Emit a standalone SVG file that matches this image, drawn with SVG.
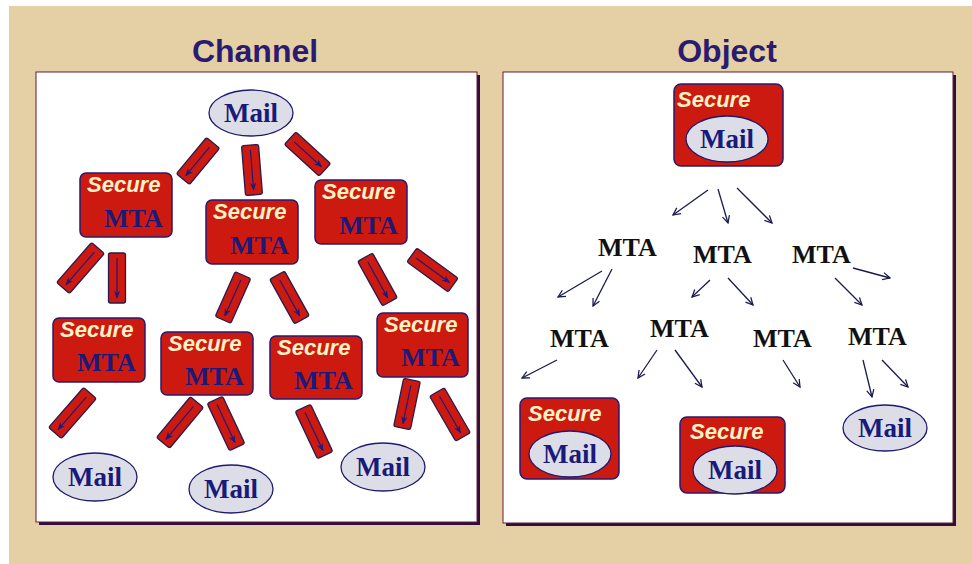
<svg xmlns="http://www.w3.org/2000/svg" width="972" height="564" viewBox="0 0 972 564">
  <style>
    .title { font-family: "Liberation Sans", Arial, sans-serif; font-weight: bold; font-size: 32px; fill: #2a1a70; text-anchor: middle; }
    .box { fill: #cc1a10; stroke: #2a1a6e; stroke-width: 1.5; }
    .secure { font-family: "Liberation Sans", Arial, sans-serif; font-weight: bold; font-style: italic; font-size: 22px; fill: #fff2c4; }
    .mta-in { font-family: "Liberation Serif", "Times New Roman", serif; font-weight: bold; font-size: 26px; fill: #1a1a7a; }
    .mta { font-family: "Liberation Serif", "Times New Roman", serif; font-weight: bold; font-size: 26px; fill: #111; }
    .oval { fill: #dddde8; stroke: #1e1a6e; stroke-width: 1.3; }
    .mail { font-family: "Liberation Serif", "Times New Roman", serif; font-weight: bold; font-size: 27px; fill: #1a1a7a; text-anchor: middle; }
    .bar { fill: #cc1a10; stroke: #2a1a4e; stroke-width: 1.3; }
    .bar-arrow { stroke: #1e1a7a; stroke-width: 1.2; fill: none; marker-end: url(#solid-head); }
    .link { stroke: #1a1a50; stroke-width: 1.3; fill: none; marker-end: url(#open-head); }
  </style>
  <defs>
    <marker id="open-head" viewBox="0 0 10 10" refX="9" refY="5" markerWidth="9" markerHeight="9" markerUnits="userSpaceOnUse" orient="auto">
      <path d="M1,1 L9,5 L1,9" fill="none" stroke="#1a1a50" stroke-width="1.4"/>
    </marker>
    <marker id="solid-head" viewBox="0 0 10 10" refX="9" refY="5" markerWidth="8" markerHeight="8" markerUnits="userSpaceOnUse" orient="auto">
      <path d="M0,1 L10,5 L0,9 L3,5 Z" fill="#1e1a7a"/>
    </marker>
  </defs>

  <!-- page background -->
  <rect x="0" y="0" width="972" height="564" fill="#ffffff"/>
  <rect x="9" y="6" width="963" height="558" fill="#e4d0a4"/>

  <!-- titles -->
  <text class="title" x="255" y="62">Channel</text>
  <text class="title" x="727" y="62">Object</text>

  <!-- panels -->
  <rect x="39" y="75" width="441" height="450" fill="#2e0e40"/>
  <rect x="36" y="72" width="441" height="450" fill="#ffffff" stroke="#6b1a2a" stroke-width="1"/>
  <rect x="506" y="75" width="450" height="451" fill="#2e0e40"/>
  <rect x="503" y="72" width="450" height="451" fill="#ffffff" stroke="#6b1a2a" stroke-width="1"/>

  <!-- Channel: secured links drawn as red bars -->
  <g id="channel-links">
    <g transform="translate(198,161) rotate(39.8)"><rect class="bar" x="-8.5" y="-23.5" width="17" height="47" rx="2"/><line class="bar-arrow" x1="0" y1="-18" x2="0" y2="19"/></g>
    <g transform="translate(252,170) rotate(-4.6)"><rect class="bar" x="-8.5" y="-25" width="17" height="50" rx="2"/><line class="bar-arrow" x1="0" y1="-20" x2="0" y2="20"/></g>
    <g transform="translate(307.5,154) rotate(-47.6)"><rect class="bar" x="-8.5" y="-23.5" width="17" height="47" rx="2"/><line class="bar-arrow" x1="0" y1="-18" x2="0" y2="19"/></g>
    <g transform="translate(80.5,268) rotate(41.2)"><rect class="bar" x="-8.5" y="-26.5" width="17" height="53" rx="2"/><line class="bar-arrow" x1="0" y1="-21" x2="0" y2="22"/></g>
    <g transform="translate(117,278)"><rect class="bar" x="-8.5" y="-25" width="17" height="50" rx="2"/><line class="bar-arrow" x1="0" y1="-20" x2="0" y2="20"/></g>
    <g transform="translate(233,297.5) rotate(24)"><rect class="bar" x="-8.5" y="-24.5" width="17" height="49" rx="2"/><line class="bar-arrow" x1="0" y1="-19" x2="0" y2="20"/></g>
    <g transform="translate(289.5,297.5) rotate(-29)"><rect class="bar" x="-8.5" y="-25.5" width="17" height="51" rx="2"/><line class="bar-arrow" x1="0" y1="-20" x2="0" y2="21"/></g>
    <g transform="translate(377.5,279.5) rotate(-29)"><rect class="bar" x="-8.5" y="-25.5" width="17" height="51" rx="2"/><line class="bar-arrow" x1="0" y1="-20" x2="0" y2="21"/></g>
    <g transform="translate(432.5,270) rotate(-53.8)"><rect class="bar" x="-8.5" y="-25.5" width="17" height="51" rx="2"/><line class="bar-arrow" x1="0" y1="-20" x2="0" y2="21"/></g>
    <g transform="translate(72.5,413) rotate(41.2)"><rect class="bar" x="-8.5" y="-26.5" width="17" height="53" rx="2"/><line class="bar-arrow" x1="0" y1="-21" x2="0" y2="22"/></g>
    <g transform="translate(180,422.5) rotate(39.7)"><rect class="bar" x="-8.5" y="-26.5" width="17" height="53" rx="2"/><line class="bar-arrow" x1="0" y1="-21" x2="0" y2="22"/></g>
    <g transform="translate(226,423.5) rotate(-25.1)"><rect class="bar" x="-8.5" y="-26" width="17" height="52" rx="2"/><line class="bar-arrow" x1="0" y1="-21" x2="0" y2="21"/></g>
    <g transform="translate(314,431.5) rotate(-25.1)"><rect class="bar" x="-8.5" y="-26" width="17" height="52" rx="2"/><line class="bar-arrow" x1="0" y1="-21" x2="0" y2="21"/></g>
    <g transform="translate(407,404) rotate(11.8)"><rect class="bar" x="-8.5" y="-24.5" width="17" height="49" rx="2"/><line class="bar-arrow" x1="0" y1="-19" x2="0" y2="20"/></g>
    <g transform="translate(450,414.5) rotate(-30)"><rect class="bar" x="-8.5" y="-26" width="17" height="52" rx="2"/><line class="bar-arrow" x1="0" y1="-21" x2="0" y2="21"/></g>
  </g>

  <!-- Channel: nodes -->
  <g id="ch-mail-src"><ellipse class="oval" cx="251" cy="113" rx="42" ry="23"/><text class="mail" x="251" y="122">Mail</text></g>
  <g id="ch-mta-1"><rect class="box" x="80" y="173" width="92" height="64" rx="6"/><text class="secure" x="87" y="192">Secure</text><text class="mta-in" x="104" y="227">MTA</text></g>
  <g id="ch-mta-2"><rect class="box" x="206" y="200" width="92" height="64" rx="6"/><text class="secure" x="213" y="219">Secure</text><text class="mta-in" x="230" y="254">MTA</text></g>
  <g id="ch-mta-3"><rect class="box" x="315" y="180" width="92" height="64" rx="6"/><text class="secure" x="322" y="199">Secure</text><text class="mta-in" x="339" y="234">MTA</text></g>
  <g id="ch-mta-4"><rect class="box" x="53" y="318" width="92" height="64" rx="6"/><text class="secure" x="60" y="337">Secure</text><text class="mta-in" x="77" y="371">MTA</text></g>
  <g id="ch-mta-5"><rect class="box" x="161" y="332" width="92" height="63" rx="6"/><text class="secure" x="168" y="351">Secure</text><text class="mta-in" x="185" y="385">MTA</text></g>
  <g id="ch-mta-6"><rect class="box" x="270" y="336" width="92" height="63" rx="6"/><text class="secure" x="277" y="355">Secure</text><text class="mta-in" x="294" y="389">MTA</text></g>
  <g id="ch-mta-7"><rect class="box" x="377" y="313" width="91" height="64" rx="6"/><text class="secure" x="384" y="332">Secure</text><text class="mta-in" x="401" y="366">MTA</text></g>
  <g id="ch-mail-1"><ellipse class="oval" cx="95" cy="477" rx="42" ry="24"/><text class="mail" x="95" y="486">Mail</text></g>
  <g id="ch-mail-2"><ellipse class="oval" cx="231" cy="489" rx="42" ry="24"/><text class="mail" x="231" y="498">Mail</text></g>
  <g id="ch-mail-3"><ellipse class="oval" cx="383" cy="467" rx="42" ry="24"/><text class="mail" x="383" y="476">Mail</text></g>

  <!-- Object: plain links -->
  <g id="object-links">
    <line class="link" x1="708" y1="190" x2="673" y2="215"/>
    <line class="link" x1="718" y1="189" x2="728" y2="223"/>
    <line class="link" x1="737" y1="188" x2="772" y2="223"/>
    <line class="link" x1="602" y1="271" x2="558" y2="297"/>
    <line class="link" x1="612" y1="269" x2="593" y2="306"/>
    <line class="link" x1="710" y1="280" x2="692" y2="297"/>
    <line class="link" x1="728" y1="278" x2="753" y2="305"/>
    <line class="link" x1="853" y1="268" x2="890" y2="278"/>
    <line class="link" x1="835" y1="278" x2="862" y2="305"/>
    <line class="link" x1="557" y1="360" x2="522" y2="378"/>
    <line class="link" x1="657" y1="350" x2="638" y2="378"/>
    <line class="link" x1="675" y1="350" x2="702" y2="387"/>
    <line class="link" x1="783" y1="360" x2="800" y2="387"/>
    <line class="link" x1="863" y1="360" x2="872" y2="397"/>
    <line class="link" x1="882" y1="360" x2="908" y2="387"/>
  </g>

  <!-- Object: nodes -->
  <g id="ob-secure-src"><rect class="box" x="674" y="84" width="109" height="82" rx="7"/><text class="secure" x="677" y="107">Secure</text><ellipse class="oval" cx="727" cy="139" rx="41" ry="23"/><text class="mail" x="727" y="148">Mail</text></g>
  <g id="ob-mta-1"><text class="mta" x="598" y="256">MTA</text></g>
  <g id="ob-mta-2"><text class="mta" x="693" y="263">MTA</text></g>
  <g id="ob-mta-3"><text class="mta" x="792" y="263">MTA</text></g>
  <g id="ob-mta-4"><text class="mta" x="550" y="347">MTA</text></g>
  <g id="ob-mta-5"><text class="mta" x="650" y="337">MTA</text></g>
  <g id="ob-mta-6"><text class="mta" x="753" y="347">MTA</text></g>
  <g id="ob-mta-7"><text class="mta" x="848" y="345">MTA</text></g>
  <g id="ob-secure-1"><rect class="box" x="520" y="398" width="99" height="81" rx="7"/><text class="secure" x="528" y="421">Secure</text><ellipse class="oval" cx="570" cy="454" rx="41" ry="23"/><text class="mail" x="570" y="463">Mail</text></g>
  <g id="ob-secure-2"><rect class="box" x="680" y="417" width="105" height="76" rx="7"/><text class="secure" x="690" y="439">Secure</text><ellipse class="oval" cx="735" cy="470" rx="42" ry="24"/><text class="mail" x="735" y="479">Mail</text></g>
  <g id="ob-mail-3"><ellipse class="oval" cx="885" cy="428" rx="42" ry="23"/><text class="mail" x="885" y="437">Mail</text></g>
</svg>
